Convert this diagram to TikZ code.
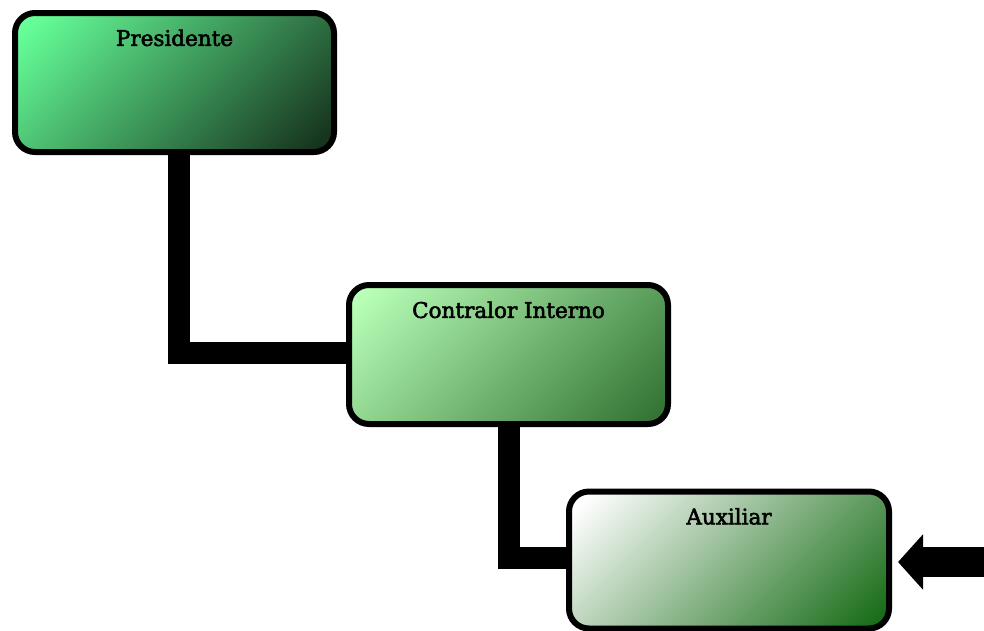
\documentclass[tikz,border=0pt]{standalone}
\usepackage{fontspec}
\setmainfont{DejaVu Serif}
\newfontfamily\labelfont{DejaVu Serif}[FakeBold=2.5]
\usetikzlibrary{arrows.meta}
\definecolor{presA}{RGB}{102,255,153}
\definecolor{presB}{RGB}{22,52,30}
\definecolor{contA}{RGB}{184,255,184}
\definecolor{contB}{RGB}{52,116,52}
\definecolor{auxA}{RGB}{255,255,255}
\definecolor{auxB}{RGB}{26,110,26}
% corner-to-corner fills
\pgfdeclareverticalshading{presfill}{100bp}{color(0bp)=(presB); color(18bp)=(presB); color(82bp)=(presA); color(100bp)=(presA)}
\pgfdeclareverticalshading{contfill}{100bp}{color(0bp)=(contB); color(18bp)=(contB); color(82bp)=(contA); color(100bp)=(contA)}
\pgfdeclareverticalshading{auxfill}{100bp}{color(0bp)=(auxB); color(18bp)=(auxB); color(82bp)=(auxA); color(100bp)=(auxA)}
\begin{document}
\begin{tikzpicture}[x=1pt,y=-1pt,
  orgbox/.style={draw=black, line width=6pt, rounded corners=20pt,
    minimum width=319pt, minimum height=139pt, inner sep=0pt,
    shading=#1, shading angle=45},
  boxlabel/.style={anchor=north, yshift=-16pt, font=\labelfont\fontsize{21.5}{24}\selectfont},
  link/.style={line width=22pt, line join=miter, line cap=butt}]
\useasboundingbox (0,0) rectangle (984,630);
% boxes
\node[orgbox=presfill, label={[boxlabel]north:Presidente}] (pres) at (174.5,82.5) {};
\node[orgbox=contfill, label={[boxlabel]north:Contralor Interno}] (cont) at (508.5,354.5) {};
\node[orgbox=auxfill, minimum width=320pt, minimum height=137pt,
  label={[boxlabel]north:Auxiliar}] (aux) at (729,560) {};
% elbow connectors between the boxes
\draw[link] ([xshift=4.5pt]pres.south) |- ([yshift=1.5pt]cont.west);
\draw[link] (cont.south) |- ([yshift=2pt]aux.west);
% incoming arrow at the right
\coordinate (feed) at (984,562);
\draw[line width=30pt, -{Triangle[length=25pt,width=54pt]}] (feed) -- ([xshift=6pt]aux.east |- feed);
\end{tikzpicture}
\end{document}
